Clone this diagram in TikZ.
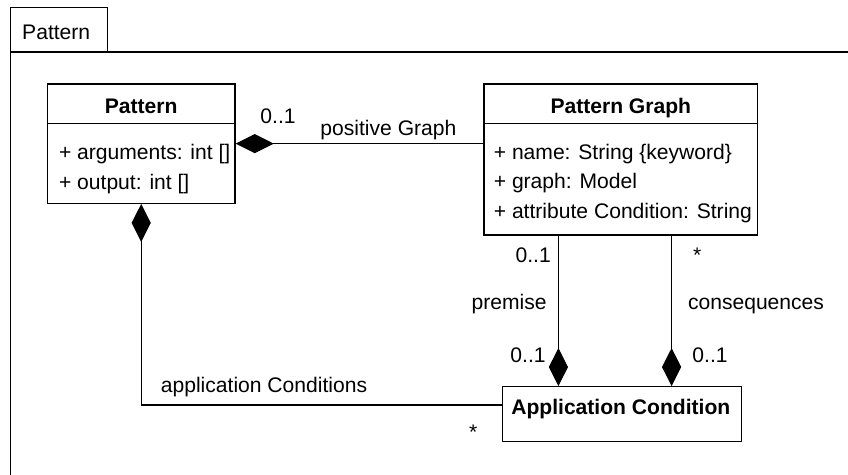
\documentclass[tikz,border=0pt]{standalone}
\usepackage{fontspec}
\setmainfont{Liberation Sans}
\usetikzlibrary{arrows.meta}

\newcommand{\grundschrift}{\fontsize{15}{18}\selectfont}

\tikzset{
	klasse/.style={draw, line width=0.9pt, inner sep=0},
	titel/.style={inner sep=0, anchor=base, font=\grundschrift\bfseries},
	attr/.style={inner sep=0, anchor=base west},
	lbl/.style={inner sep=0, anchor=base},
	komp/.style={line width=0.9pt, -{Diamond[length=0.95cm,width=0.48cm]}},
}

\begin{document}
\begin{tikzpicture}[font=\grundschrift, line width=0.9pt]
	\useasboundingbox (0,0) rectangle (21.2,11.875);
	\clip (0,0) rectangle (21.2,11.875);
	% Paketrahmen mit Reiter
	\draw (0.26,-1) rectangle (22,10.575);
	\draw (0.26,10.575) rectangle (2.69,11.69);
	\node [attr] (reiter) at (0.54,10.875) {Pattern};
	%%%% Klasse Pattern
	\node [klasse, minimum width=4.695cm, minimum height=2.982cm] (pattern) at (3.53,8.284) {};
	\draw (pattern.west |- 0,8.79) -- (pattern.east |- 0,8.79);
	\node [titel] (patternname) at (3.53,9.04) {Pattern};
	\node [attr] (args) at (1.46,7.89) {+ arguments: int []};
	\node [attr] (out) at (1.46,7.125) {+ output: int []};
	%%%% Klasse Pattern Graph
	\node [klasse, minimum width=6.83cm, minimum height=3.775cm] (graph) at (15.515,7.8875) {};
	\draw (graph.west |- 0,8.79) -- (graph.east |- 0,8.79);
	\node [titel] (graphname) at (15.52,9.04) {Pattern Graph};
	\node [attr] (gname) at (12.33,7.875) {+ name: String \{keyword\}};
	\node [attr] (ggraph) at (12.33,7.17) {+ graph: Model};
	\node [attr] (gcond) at (12.33,6.42) {+ attribute Condition: String};
	%%%% Klasse Application Condition
	\node [klasse, minimum width=5.98cm, minimum height=1.3775cm] (ac) at (15.55,1.519) {};
	\node [titel] (acname) at (15.52,1.5) {Application Condition};
	%%%% Kompositionen
	\coordinate (prem) at (13.96,0);
	\coordinate (cons) at (16.79,0);
	\draw [komp] (pattern.east -| graph.west) -- (pattern.east);
	\draw [komp] (graph.south -| prem) -- (ac.north -| prem);
	\draw [komp] (graph.south -| cons) -- (ac.north -| cons);
	\draw [komp] (ac.west) ++(0,0.23) -| (pattern.south);
	% Beschriftungen
	\node [lbl] (m1) at (6.95,8.79) {0..1};
	\node [lbl] (posgraph) at (9.71,8.475) {positive Graph};
	\node [lbl] (m2) at (13.33,5.3) {0..1};
	\node [lbl] (m3) at (17.43,5.3) {*};
	\node [lbl] (premise) at (12.73,4.125) {premise};
	\node [lbl] (conseq) at (18.9,4.125) {consequences};
	\node [lbl] (m4) at (13.2,2.8) {0..1};
	\node [lbl] (m5) at (17.75,2.8) {0..1};
	\node [lbl] (appcond) at (6.6,2.05) {application Conditions};
	\node [lbl] (m6) at (11.83,0.875) {*};
\end{tikzpicture}
\end{document}
